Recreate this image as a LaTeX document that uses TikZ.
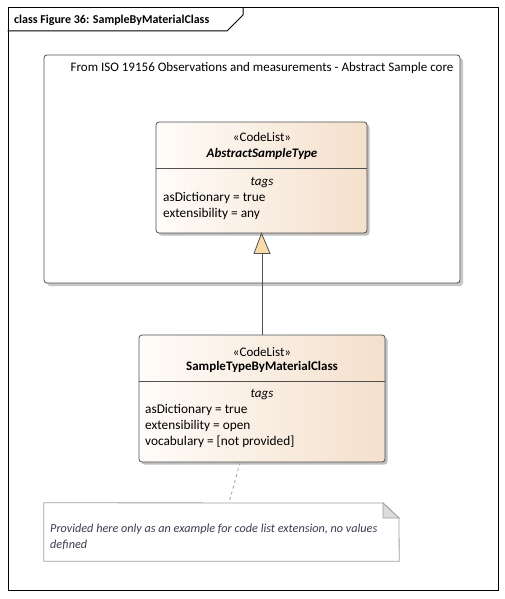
\documentclass[tikz,border=0pt]{standalone}
\usepackage{fontspec}
\setmainfont{Carlito}
\usetikzlibrary{shadows}
\definecolor{boxline}{RGB}{80,80,80}
\definecolor{peachL}{RGB}{255,252,249}
\definecolor{peachR}{RGB}{244,224,204}
\definecolor{trifill}{RGB}{250,218,170}
\definecolor{notetext}{RGB}{60,60,80}
\definecolor{noteline}{RGB}{160,160,160}
\definecolor{foldfill}{RGB}{220,220,220}
\tikzset{
  classbox/.style={draw=boxline, rounded corners=3pt, line width=0.8pt,
    left color=peachL, right color=peachR,
    drop shadow={shadow xshift=2.5pt, shadow yshift=-2.5pt, fill=black!25, opacity=1},
    inner sep=0pt},
  pkgbox/.style={draw=boxline, rounded corners=3pt, line width=0.8pt, fill=white,
    drop shadow={shadow xshift=3pt, shadow yshift=-3pt, fill=black!22, opacity=1},
    inner sep=0pt},
  txt/.style={inner sep=0pt, anchor=base, font=\fontsize{13}{15}\selectfont},
  ltxt/.style={inner sep=0pt, anchor=base west, font=\fontsize{13.3}{15}\selectfont},
}
\begin{document}
\begin{tikzpicture}[x=1pt,y=-1pt]
\useasboundingbox (0,0) rectangle (505,599);
\fill[white] (0,0) rectangle (505,599);
% outer frame
\node[draw=black, line width=1pt, minimum width=490pt, minimum height=582pt, inner sep=0pt] (frame) at (253,299) {};
\draw[line width=1pt] (frame.north west |- 0,31) -- (227,31) -- (243,15) -- (243,8);
\node[inner sep=0pt, anchor=base west, font=\bfseries\fontsize{12}{14}\selectfont] (title) at (14,24) {class Figure 36: SampleByMaterialClass};
% package
\node[pkgbox, minimum width=416pt, minimum height=228pt] (pkg) at (252,169) {};
\node[txt] (pkgname) at (262,72) {From ISO 19156 Observations and measurements - Abstract Sample core};
% class A
\node[classbox, minimum width=211pt, minimum height=111pt] (A) at (261.5,177.5) {};
\draw[boxline, line width=0.8pt] (A.west |- 0,168) -- (A.east |- 0,168);
\node[txt] (Aster) at (262,141.5) {«CodeList»};
\node[txt, font=\bfseries\itshape\fontsize{13}{15}\selectfont] (Aname) at (262,157.5) {AbstractSampleType};
\node[txt, font=\itshape\fontsize{13}{15}\selectfont] (Atags) at (262,185) {tags};
\node[ltxt] (Aa1) at (163,201) {asDictionary = true};
\node[ltxt] (Aa2) at (163,217) {extensibility = any};
% class B
\node[classbox, minimum width=246pt, minimum height=127pt] (B) at (262,398.5) {};
\draw[boxline, line width=0.8pt] (B.west |- 0,381) -- (B.east |- 0,381);
\node[txt] (Bster) at (262,356) {«CodeList»};
\node[txt, font=\bfseries\fontsize{13}{15}\selectfont] (Bname) at (262,370.5) {SampleTypeByMaterialClass};
\node[txt, font=\itshape\fontsize{13}{15}\selectfont] (Btags) at (262,397) {tags};
\node[ltxt] (Ba1) at (145,413.5) {asDictionary = true};
\node[ltxt] (Ba2) at (145,429.5) {extensibility = open};
\node[ltxt] (Ba3) at (145,445) {vocabulary = [not provided]};
% generalization
\coordinate (tribase) at (262,253.5);
\draw[boxline, line width=0.8pt] (B.north) -- (tribase);
\draw[boxline, line width=0.8pt, fill=trifill] (A.south) -- (270,253.5) -- (254,253.5) -- cycle;
% note
\node[minimum width=355pt, minimum height=58pt, inner sep=0pt] (N) at (221.5,532) {};
\draw[noteline, line width=0.8pt, fill=white] (N.north west) -- (383,503) -- (399,518) -- (N.south east) -- (N.south west) -- cycle;
\draw[noteline, line width=0.8pt, fill=foldfill] (383,503) -- (399,518) -- (383,518) -- cycle;
\node[ltxt, text=notetext, font=\itshape\fontsize{12.2}{14}\selectfont] (Nt1) at (50,532) {Provided here only as an example for code list extension, no values};
\node[ltxt, text=notetext, font=\itshape\fontsize{12.2}{14}\selectfont] (Nt2) at (50,548) {defined};
\coordinate (bnote) at (240,462.5);
\coordinate (ntop) at (229,503);
\draw[noteline, dashed, line width=0.8pt] (bnote) -- (ntop);
\end{tikzpicture}
\end{document}
